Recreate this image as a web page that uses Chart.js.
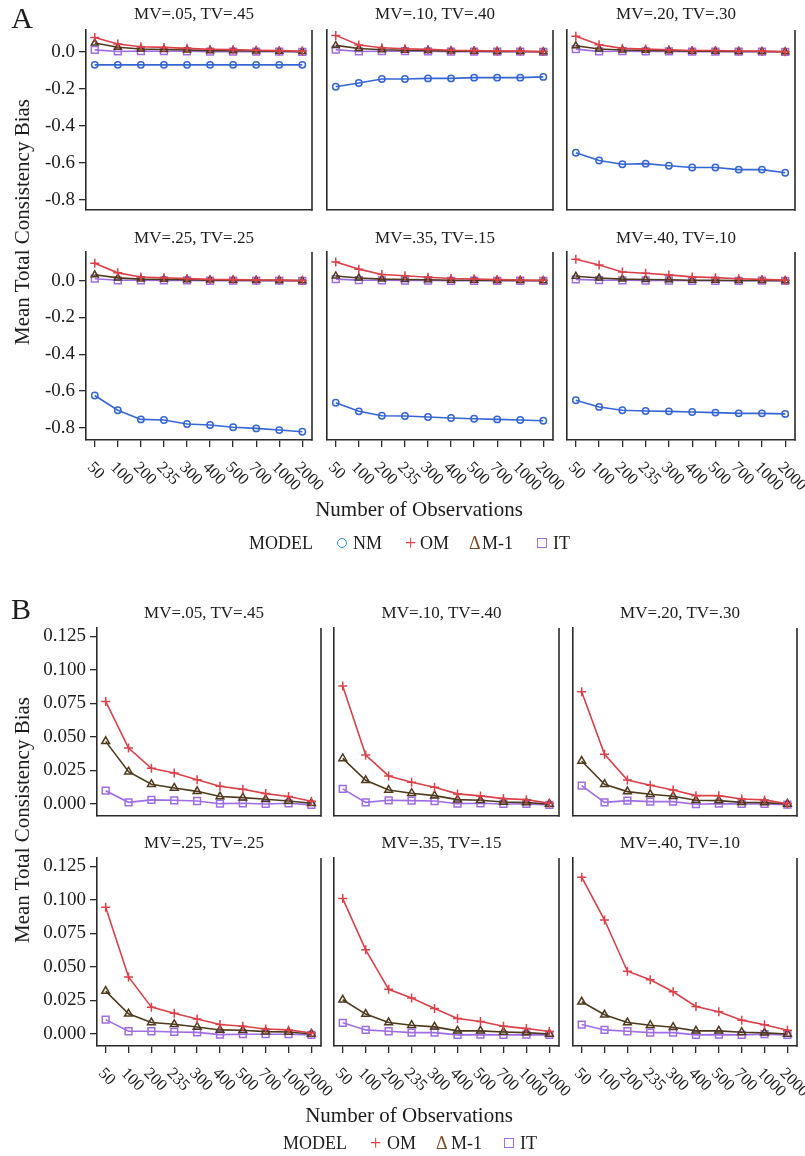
<!DOCTYPE html>
<html>
<head>
<meta charset="utf-8">
<script src="https://cdn.jsdelivr.net/npm/chart.js@4.4.1/dist/chart.umd.min.js"></script>
<style>
  body { margin: 0; width: 805px; height: 1156px; background: #fff; position: relative; overflow: hidden;
         font-family: "Liberation Serif", "Times New Roman", serif; color: #1c1c1c; }
  canvas { position: absolute; }
  .t { position: absolute; white-space: nowrap; transform: translate(-50%, -50%); }
  .yt { position: absolute; white-space: nowrap; font-size: 21px; transform: translate(-50%, -50%) rotate(-90deg); }
  .lg { position: absolute; white-space: nowrap; font-size: 18px; transform: translateY(-50%); }
</style>
</head>
<body>
<div id="root"></div>
<script>
// sample sizes on the x axis
const obsLabels = ['50', '100', '200', '235', '300', '400', '500', '700', '1000', '2000'];

// one title per facet (same for A and B)
const panelTitles = ['MV=.05, TV=.45', 'MV=.10, TV=.40', 'MV=.20, TV=.30',
                     'MV=.25, TV=.25', 'MV=.35, TV=.15', 'MV=.40, TV=.10'];

// y tick values
const yTicksA = [-0.8, -0.6, -0.4, -0.2, 0.0];
const yTicksB = [0.000, 0.025, 0.050, 0.075, 0.100, 0.125];

// NM model (only in part A)
const nmBias = [
  [-0.071, -0.071, -0.071, -0.071, -0.071, -0.071, -0.071, -0.071, -0.071, -0.071],
  [-0.189, -0.169, -0.147, -0.147, -0.144, -0.144, -0.140, -0.140, -0.140, -0.136],
  [-0.545, -0.587, -0.607, -0.604, -0.615, -0.625, -0.625, -0.636, -0.636, -0.653],
  [-0.625, -0.705, -0.755, -0.758, -0.780, -0.785, -0.798, -0.804, -0.813, -0.822],
  [-0.664, -0.711, -0.735, -0.736, -0.742, -0.747, -0.751, -0.755, -0.758, -0.762],
  [-0.651, -0.687, -0.705, -0.709, -0.711, -0.715, -0.718, -0.722, -0.722, -0.725]
];

// OM model
const omBias = [
  [0.0765, 0.0417, 0.0266, 0.0231, 0.0181, 0.0132, 0.0109, 0.0077, 0.0055, 0.0020],
  [0.0880, 0.0365, 0.0209, 0.0162, 0.0124, 0.0075, 0.0060, 0.0040, 0.0032, 0.0005],
  [0.0837, 0.0370, 0.0179, 0.0140, 0.0104, 0.0062, 0.0062, 0.0037, 0.0030, 0.0002],
  [0.0945, 0.0425, 0.0200, 0.0155, 0.0112, 0.0070, 0.0057, 0.0037, 0.0030, 0.0007],
  [0.1010, 0.0628, 0.0333, 0.0268, 0.0190, 0.0115, 0.0093, 0.0058, 0.0040, 0.0018],
  [0.1170, 0.0850, 0.0468, 0.0405, 0.0315, 0.0205, 0.0165, 0.0103, 0.0068, 0.0028]
];

// M-1 model
const m1Bias = [
  [0.0467, 0.0241, 0.0147, 0.0119, 0.0094, 0.0055, 0.0047, 0.0035, 0.0022, 0.0005],
  [0.0340, 0.0176, 0.0104, 0.0080, 0.0062, 0.0032, 0.0027, 0.0015, 0.0010, 0.0000],
  [0.0320, 0.0147, 0.0092, 0.0072, 0.0057, 0.0027, 0.0025, 0.0012, 0.0010, 0.0000],
  [0.0320, 0.0150, 0.0085, 0.0072, 0.0052, 0.0030, 0.0027, 0.0017, 0.0015, 0.0000],
  [0.0255, 0.0148, 0.0085, 0.0065, 0.0053, 0.0023, 0.0023, 0.0015, 0.0010, 0.0000],
  [0.0240, 0.0143, 0.0085, 0.0065, 0.0050, 0.0023, 0.0023, 0.0013, 0.0008, 0.0000]
];

// IT model
const itBias = [
  [0.0099, 0.0012, 0.0030, 0.0027, 0.0022, 0.0002, 0.0005, 0.0000, 0.0005, -0.0007],
  [0.0112, 0.0012, 0.0027, 0.0025, 0.0022, 0.0002, 0.0005, 0.0000, 0.0000, -0.0007],
  [0.0137, 0.0012, 0.0025, 0.0017, 0.0017, -0.0002, 0.0002, 0.0000, 0.0000, -0.0005],
  [0.0107, 0.0020, 0.0020, 0.0015, 0.0012, -0.0005, -0.0002, -0.0002, -0.0002, -0.0007],
  [0.0083, 0.0030, 0.0020, 0.0010, 0.0010, -0.0007, -0.0005, -0.0007, -0.0005, -0.0007],
  [0.0070, 0.0030, 0.0020, 0.0010, 0.0010, -0.0007, -0.0005, -0.0007, -0.0002, -0.0007]
];

const FONT = '"Liberation Serif", "Times New Roman", serif';
const AXIS = '#2b2b2b';
const TEXT = '#1c1c1c';
const PAD_L = 70, PAD_T = 16, PAD_R = 12, PAD_B = 70;

const root = document.getElementById('root');

function addText(cls, txt, x, y, extra) {
  const d = document.createElement('div');
  d.className = cls;
  d.textContent = txt;
  d.style.left = x + 'px';
  d.style.top = y + 'px';
  if (extra) Object.assign(d.style, extra);
  root.appendChild(d);
  return d;
}

// right edge of each facet box
const framePlugin = {
  id: 'frame',
  afterDraw(chart) {
    const { ctx, chartArea } = chart;
    ctx.save();
    ctx.strokeStyle = AXIS;
    ctx.lineWidth = 1.6;
    ctx.beginPath();
    ctx.moveTo(chartArea.right, chartArea.top);
    ctx.lineTo(chartArea.right, chartArea.bottom + 0.8);
    ctx.stroke();
    ctx.restore();
  }
};

// rotated x labels (reading down to the right)
const xLabelPlugin = {
  id: 'xLabels',
  afterDraw(chart) {
    const { ctx, chartArea } = chart;
    const x = chart.scales.x;
    ctx.save();
    ctx.font = '16.5px ' + FONT;
    ctx.fillStyle = TEXT;
    ctx.textAlign = 'left';
    ctx.textBaseline = 'middle';
    obsLabels.forEach((lab, i) => {
      ctx.save();
      ctx.translate(x.getPixelForValue(i) - 5, chartArea.bottom + 25);
      ctx.rotate(Math.PI / 4);
      ctx.fillText(lab, 0, 0);
      ctx.restore();
    });
    ctx.restore();
  }
};

function series(label, values, color, style, radius) {
  return {
    label: label,
    data: values.map((v, i) => ({ x: i, y: v })),
    borderColor: color,
    backgroundColor: 'rgba(0,0,0,0)',
    borderWidth: 1.6,
    pointStyle: style,
    pointRadius: radius,
    pointBorderColor: color,
    pointBorderWidth: 1.5,
    pointBackgroundColor: 'rgba(0,0,0,0)',
    tension: 0,
    clip: false
  };
}

function makePanel(opts) {
  const c = document.createElement('canvas');
  const cw = PAD_L + opts.w + PAD_R;
  const ch = PAD_T + opts.h + PAD_B;
  c.width = cw; c.height = ch;
  c.style.left = (opts.left - PAD_L) + 'px';
  c.style.top = (opts.top - PAD_T) + 'px';
  c.style.width = cw + 'px';
  c.style.height = ch + 'px';
  root.appendChild(c);

  const plugins = [framePlugin];
  if (opts.showX) plugins.push(xLabelPlugin);

  new Chart(c, {
    type: 'line',
    data: { datasets: opts.datasets },
    options: {
      responsive: false,
      animation: false,
      devicePixelRatio: 1,
      layout: { padding: { top: PAD_T, right: PAD_R, left: 0, bottom: 0 } },
      plugins: { legend: { display: false }, tooltip: { enabled: false } },
      scales: {
        x: {
          type: 'linear',
          min: -0.38,
          max: 9.42,
          afterBuildTicks: (s) => { s.ticks = obsLabels.map((_, i) => ({ value: i })); },
          afterFit: (s) => { s.height = PAD_B; },
          ticks: { display: false },
          grid: { display: opts.showX, drawOnChartArea: false, tickLength: 7, color: AXIS, lineWidth: 1.3 },
          border: { display: true, color: AXIS, width: 1.6 }
        },
        y: {
          min: opts.yMin,
          max: opts.yMax,
          afterBuildTicks: (s) => { s.ticks = opts.yTicks.map(v => ({ value: v })); },
          afterFit: (s) => { s.width = PAD_L; },
          ticks: {
            display: opts.showY,
            padding: 4,
            color: TEXT,
            font: { family: FONT, size: 19 },
            callback: (v) => v.toFixed(opts.digits)
          },
          grid: { display: opts.showY, drawOnChartArea: false, tickLength: 7, color: AXIS, lineWidth: 1.3 },
          border: { display: true, color: AXIS, width: 1.6 }
        }
      }
    },
    plugins: plugins
  });

  addText('t', panelTitles[opts.idx], opts.left + opts.w / 2 - 5, opts.titleY, { fontSize: '17px' });
}

// ---------- part A ----------
const colA = [86, 327, 567], colWA = [226, 226, 228];
const rowA = [30, 252], rowHA = [180, 188];
const yRangeA = [[-0.854, 0.117], [-0.867, 0.156]];
const titleYA = [14, 238];

// ---------- part B ----------
const colB = [97, 334, 573], colWB = [224, 225, 224];
const rowB = [628, 858], rowHB = [188, 188];
const titleYB = [613, 843];

for (let idx = 0; idx < 6; idx++) {
  const r = Math.floor(idx / 3), col = idx % 3;
  makePanel({
    idx, left: colA[col], top: rowA[r], w: colWA[col], h: rowHA[r],
    yMin: yRangeA[r][0], yMax: yRangeA[r][1], yTicks: yTicksA, digits: 1,
    showY: col === 0, showX: r === 1, titleY: titleYA[r],
    datasets: [
      series('NM', nmBias[idx], '#3566d4', 'circle', 3.2),
      series('OM', omBias[idx], '#dc4048', 'cross', 4.5),
      series('M-1', m1Bias[idx], '#4e3a1c', 'triangle', 4),
      series('IT', itBias[idx], '#a06ce4', 'rect', 4.8)
    ]
  });
  makePanel({
    idx, left: colB[col], top: rowB[r], w: colWB[col], h: rowHB[r],
    yMin: -0.0090, yMax: 0.1313, yTicks: yTicksB, digits: 3,
    showY: col === 0, showX: r === 1, titleY: titleYB[r],
    datasets: [
      series('OM', omBias[idx], '#dc4048', 'cross', 4.5),
      series('M-1', m1Bias[idx], '#4e3a1c', 'triangle', 4.5),
      series('IT', itBias[idx], '#a06ce4', 'rect', 4.8)
    ]
  });
}

// panel letters, axis titles
addText('t', 'A', 22, 18, { fontSize: '30px' });
addText('t', 'B', 21, 609, { fontSize: '30px' });
addText('yt', 'Mean Total Consistency Bias', 22, 222);
addText('yt', 'Mean Total Consistency Bias', 22, 820);
addText('t', 'Number of Observations', 419, 509, { fontSize: '21px' });
addText('t', 'Number of Observations', 409, 1115, { fontSize: '21px' });

// legends
function legendBox(x, y, shape, color) {
  const d = document.createElement('div');
  d.style.position = 'absolute';
  d.style.left = x + 'px';
  d.style.top = (y - 5) + 'px';
  d.style.width = '8px';
  d.style.height = '8px';
  d.style.border = '1.5px solid ' + color;
  if (shape === 'circle') d.style.borderRadius = '50%';
  root.appendChild(d);
}
function legendGlyph(x, y, ch, color, size) {
  addText('lg', ch, x, y, { color: color, fontSize: size + 'px' });
}

addText('lg', 'MODEL', 249, 543);
legendBox(337, 543, 'circle', '#2f8ae6');
addText('lg', 'NM', 353, 543);
legendGlyph(405, 543, '+', '#e04048', 20);
addText('lg', 'OM', 420, 543);
legendGlyph(469, 543, '\u0394', '#7a4a22', 18);
addText('lg', 'M-1', 482, 543);
legendBox(537, 543, 'rect', '#a06ce4');
addText('lg', 'IT', 553, 543);

addText('lg', 'MODEL', 283, 1143);
legendGlyph(370, 1143, '+', '#e04048', 20);
addText('lg', 'OM', 387, 1143);
legendGlyph(436, 1143, '\u0394', '#7a4a22', 18);
addText('lg', 'M-1', 451, 1143);
legendBox(504, 1143, 'rect', '#a06ce4');
addText('lg', 'IT', 520, 1143);
</script>
</body>
</html>
